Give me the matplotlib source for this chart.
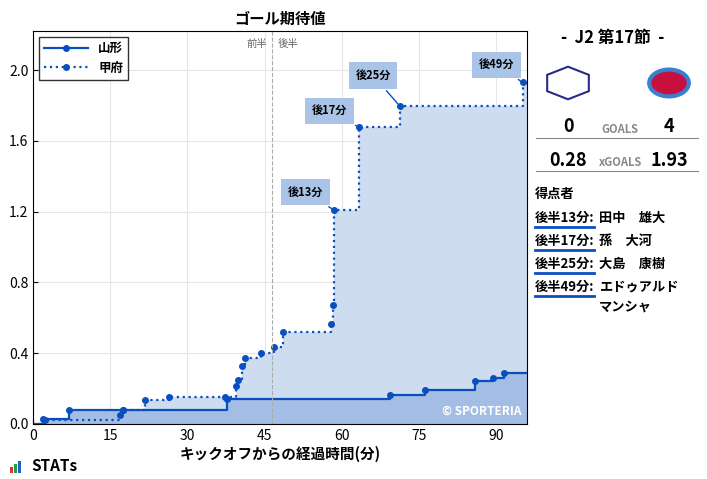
import matplotlib
matplotlib.use("Agg")
import matplotlib.pyplot as plt
from matplotlib.patches import RegularPolygon, Circle, Rectangle
from matplotlib.lines import Line2D

plt.rcParams["font.family"] = ["Noto Sans CJK JP"]

yam_t = [0, 1.9, 6.9, 17.5, 37.7, 69.4, 76.2, 86.0, 89.5, 91.6, 96]
yam_x = [0, 0.03, 0.079, 0.079, 0.141, 0.162, 0.192, 0.245, 0.258, 0.286, 0.286]
kof_t = [0, 2.3, 16.9, 17.5, 21.8, 26.5, 37.3, 39.5, 39.9, 40.7, 41.1, 44.4, 46.9, 48.5, 57.9, 58.4, 58.5, 63.3, 71.3, 95.2, 96]
kof_x = [0, 0.02, 0.05, 0.079, 0.136, 0.151, 0.151, 0.215, 0.249, 0.328, 0.371, 0.399, 0.437, 0.518, 0.563, 0.67, 1.209, 1.678, 1.797, 1.93, 1.93]
goal_t = [58.5, 63.3, 71.3, 95.2]
goal_x = [1.209, 1.678, 1.797, 1.93]
goal_lbl = ["後13分", "後17分", "後25分", "後49分"]
lbl_pos = [(52.9, 1.31), (57.7, 1.77), (66.1, 1.97), (90.2, 2.03)]
scorers = [("後半13分:", ["田中　雄大"]), ("後半17分:", ["孫　大河"]), ("後半25分:", ["大島　康樹"]), ("後半49分:", ["エドゥアルド", "マンシャ"])]

blue = "#0a4fbf"
fig = plt.figure(figsize=(7.07, 4.79), dpi=100)
ax = fig.add_axes([0.047, 0.115, 0.698, 0.82])
ax.fill_between(kof_t, kof_x, step="post", color="#cddcef", lw=0)
ax.fill_between(yam_t, yam_x, step="post", color="#a3bde4", lw=0)
ax.step(yam_t, yam_x, where="post", color=blue, lw=1.6)
ax.step(kof_t, kof_x, where="post", color=blue, lw=1.6, ls=":")
ax.plot(yam_t[1:-1], yam_x[1:-1], "o", color=blue, ms=4)
ax.plot(kof_t[1:-1], kof_x[1:-1], "o", color=blue, ms=4)
for t, x, l, p in zip(goal_t, goal_x, goal_lbl, lbl_pos):
    ax.annotate(l, xy=(t, x), xytext=p, fontsize=8, fontweight="bold", ha="center", va="center",
                bbox=dict(boxstyle="square,pad=0.6", fc="#a9c4e6", ec="none"),
                arrowprops=dict(arrowstyle="-", color=blue, lw=1))
ax.axvline(46.5, color="#aaaaaa", ls="--", lw=0.8)
ax.text(43.5, 2.15, "前半", fontsize=7.5, color="#666666", ha="center", va="center")
ax.text(49.5, 2.15, "後半", fontsize=7.5, color="#666666", ha="center", va="center")
ax.set_xlim(0, 96)
ax.set_ylim(0, 2.22)
ax.set_xticks([0, 15, 30, 45, 60, 75, 90])
ax.set_yticks([0, 0.4, 0.8, 1.2, 1.6, 2.0])
ax.set_yticklabels(["0.0", "0.4", "0.8", "1.2", "1.6", "2.0"])
ax.grid(color="#e6e6e6", lw=0.8)
ax.set_axisbelow(True)
ax.tick_params(direction="in", labelsize=10)
ax.set_title("ゴール期待値", fontsize=11, fontweight="bold", pad=5)
ax.set_xlabel("キックオフからの経過時間(分)", fontsize=10.5, fontweight="bold", labelpad=2)
h = [Line2D([], [], color=blue, lw=1.6, marker="o", ms=4),
     Line2D([], [], color=blue, lw=1.6, ls=":", marker="o", ms=4)]
ax.legend(h, ["山形", "甲府"], loc="upper left", prop={"size": 9, "weight": "bold"}, frameon=True,
          fancybox=False, edgecolor="black", handlelength=3.5)
ax.text(95, 0.035, "© SPORTERIA", color="white", fontsize=8.5, ha="right", va="bottom", fontweight="bold")

# right panel
fig.text(0.867, 0.92, "-  J2 第17節  -", fontsize=12, fontweight="bold", ha="center", va="center")
fig.patches.append(RegularPolygon((568/707, 1-83/479), 6, radius=0.034, orientation=0,
                   transform=fig.transFigure, fc="white", ec="#2a2a8a", lw=1.5))
fig.patches.append(Circle((669/707, 1-83/479), 0.028, transform=fig.transFigure, fc="#c8103e", ec="#3a7fd0", lw=3))
fig.text(568/707, 1-127/479, "0", fontsize=13, fontweight="bold", ha="center", va="center")
fig.text(620/707, 1-129/479, "GOALS", fontsize=8, fontweight="bold", color="#888888", ha="center", va="center")
fig.text(669/707, 1-127/479, "4", fontsize=13, fontweight="bold", ha="center", va="center")
fig.add_artist(Line2D([536/707, 698/707], [1-138/479]*2, color="#888888", lw=0.8))
fig.text(568/707, 1-160/479, "0.28", fontsize=13, fontweight="bold", ha="center", va="center")
fig.text(620/707, 1-162/479, "xGOALS", fontsize=8, fontweight="bold", color="#888888", ha="center", va="center")
fig.text(669/707, 1-160/479, "1.93", fontsize=13, fontweight="bold", ha="center", va="center")
fig.add_artist(Line2D([536/707, 698/707], [1-171/479]*2, color="#888888", lw=0.8))
fig.text(535/707, 1-194/479, "得点者", fontsize=9.5, fontweight="bold", ha="left", va="center")
ys = [218, 241, 264, 287]
for y, (a, names) in zip(ys, scorers):
    fig.text(535/707, 1-y/479, a, fontsize=9.5, fontweight="bold", ha="left", va="center")
    fig.add_artist(Line2D([535/707, 594/707], [1-(y+9)/479]*2, color=blue, lw=2))
    for k, nm in enumerate(names):
        fig.text(599/707, 1-(y+20*k)/479, nm, fontsize=9.5, fontweight="bold", ha="left", va="center")

# STATS logo
for i, (hh, c) in enumerate([(6, "#e03030"), (9, "#20a040"), (12, "#2060c0")]):
    fig.patches.append(Rectangle(((10+i*4)/707, 1-473/479), 3/707, hh/479, transform=fig.transFigure, fc=c))
fig.text(31/707, 1-466/479, "STATs", fontsize=11, fontweight="bold", ha="left", va="center")
fig.savefig("out.png", dpi=100)
